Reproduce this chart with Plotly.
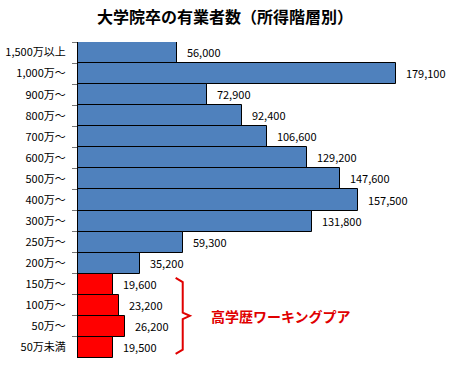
import plotly.graph_objects as go

categories = ["1,500万以上", "1,000万～", "900万～", "800万～", "700万～", "600万～", "500万～",
              "400万～", "300万～", "250万～", "200万～", "150万～", "100万～", "50万～", "50万未満"]
values = [56000, 179100, 72900, 92400, 106600, 129200, 147600, 157500, 131800, 59300, 35200,
          19600, 23200, 26200, 19500]
colors = ["#4F81BD"] * 11 + ["#FF0000"] * 4

FONT = "Noto Sans CJK JP"

fig = go.Figure(go.Bar(
    y=categories, x=values, orientation="h",
    marker=dict(color=colors, line=dict(color="black", width=1)),
    texttemplate="\u00a0\u00a0\u00a0%{x:,}", textposition="outside",
    textfont=dict(family=FONT, size=11, color="black"),
    cliponaxis=False, constraintext="none",
))

fig.update_layout(
    width=450, height=367,
    margin=dict(l=78, r=17, t=42, b=9, autoexpand=False),
    paper_bgcolor="white", plot_bgcolor="white",
    bargap=0, showlegend=False,
    title=dict(text="大学院卒の有業者数（所得階層別）", x=0.5, xanchor="center", y=0.952, yanchor="middle",
               font=dict(family=FONT, size=16, color="black", weight="bold")),
    xaxis=dict(range=[0, 200000], visible=False, automargin=False),
    yaxis=dict(range=[14.5, -0.5], showline=True, linecolor="black", linewidth=1,
               ticks="outside", ticklen=5, tickcolor="#777", tickson="boundaries",
               tickfont=dict(family=FONT, size=11, color="black"), ticklabelstandoff=9,
               showgrid=False, automargin=False),
    font=dict(family=FONT),
)

# bracket
fig.add_shape(type="path", xref="x", yref="y",
              path="M 55000,10.7 L 59000,10.9 L 59000,12.35 L 63000,12.5 L 59000,12.65 L 59000,14.1 L 55000,14.3",
              line=dict(color="#E00000", width=2))
fig.add_annotation(x=74000, y=12.5, xref="x", yref="y", text="<b>高学歴ワーキングプア</b>",
                   showarrow=False, xanchor="left",
                   font=dict(family=FONT, size=14, color="#E00000"))

fig.write_html("out.html", config={"displayModeBar": False},
               post_script="document.body.style.margin='0';")
